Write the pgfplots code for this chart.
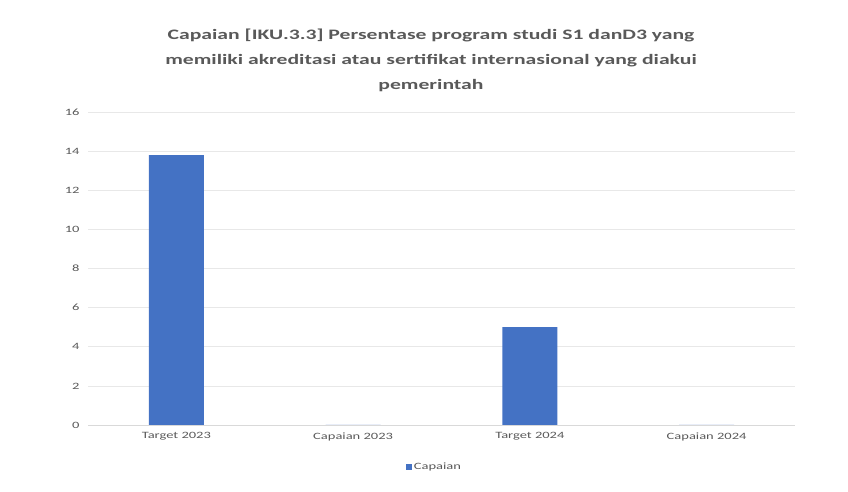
\documentclass[border=0pt]{standalone}
\usepackage{pgfplots}
\pgfplotsset{compat=1.18}
\usepackage{fontspec}
\setmainfont{Carlito}[FakeStretch=1.5]
\definecolor{barblue}{HTML}{4472C4}
\definecolor{txtgray}{HTML}{595959}
\definecolor{gridgray}{HTML}{E8E8E8}
\definecolor{basegray}{HTML}{D9D9D9}
\begin{document}
\begin{tikzpicture}[x=1bp,y=1bp]
\path (0,0) rectangle (848,492);
\begin{axis}[
  at={(88bp,67bp)}, anchor=south west,
  scale only axis, width=707bp, height=313bp,
  xmin=-0.5, xmax=3.5, ymin=0, ymax=16,
  ytick={0,2,...,16},
  xtick={0,1,2,3},
  xticklabels={Target 2023, Capaian 2023, Target 2024, Capaian 2024},
  ybar, bar width=55bp,
  axis line style={draw=none},
  major tick length=0pt,
  ymajorgrids, grid style={gridgray, line width=0.6pt},
  extra y ticks={0}, extra y tick labels={},
  extra y tick style={grid style={basegray, line width=0.8pt}},
  tick label style={font=\fontsize{9.7}{11}\selectfont, text=txtgray},
  /pgf/number format/assume math mode=true,
  yticklabel style={xshift=-5bp},
  xticklabel style={yshift=-4bp},
  tick style={draw=none},
  legend style={at={(0.49,-0.135)}, anchor=center, draw=none,
    font=\fontsize{9.7}{11}\selectfont, text=txtgray},
  legend image code/.code={\fill[barblue] (0bp,-3bp) rectangle (6bp,3bp);},
]
\addplot[fill=barblue, draw=none] coordinates {(0,13.8) (1,0) (2,5) (3,0)};
\addlegendentry{Capaian}
\end{axis}
\node[align=center, text=txtgray, font=\bfseries\fontsize{14.5}{25}\selectfont] at (431,432)
  {Capaian [IKU.3.3] Persentase program studi S1 danD3 yang\\memiliki akreditasi atau sertifikat internasional yang diakui\\pemerintah};
\end{tikzpicture}
\end{document}
